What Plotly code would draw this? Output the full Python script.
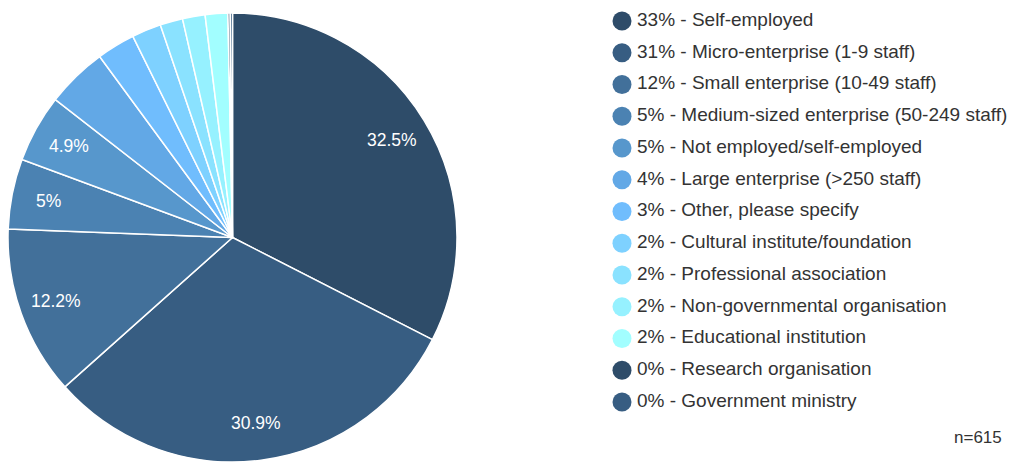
import math
import plotly.graph_objects as go

# Employment categories of respondents (n = 615)
categories = [
    "Self-employed",
    "Micro-enterprise (1-9 staff)",
    "Small enterprise (10-49 staff)",
    "Medium-sized enterprise (50-249 staff)",
    "Not employed/self-employed",
    "Large enterprise (>250 staff)",
    "Other, please specify",
    "Cultural institute/foundation",
    "Professional association",
    "Non-governmental organisation",
    "Educational institution",
    "Research organisation",
    "Government ministry",
]
counts = [200, 190, 75, 31, 30, 27, 17, 13, 10, 10, 10, 1, 1]
colors = [
    "#2e4c69", "#375d82", "#42709a", "#4b82b2", "#5797cc", "#62a8e6",
    "#70bdfd", "#7ed1ff", "#8ae2ff", "#96f1ff", "#a2feff",
    "#2e4c69", "#375d82",
]
slice_labels_shown = 5  # only the five biggest slices carry a percentage label

W, H = 1011, 464
total = sum(counts)
shares = [c / total * 100 for c in counts]
FONT = "Liberation Sans, Arial, sans-serif"

# pie geometry in pixels
cx, cy, R = 232.5, 237.5, 224.5

fig = go.Figure()

fig.add_trace(go.Pie(
    labels=categories,
    values=counts,
    sort=False,
    direction="clockwise",
    rotation=0,
    textinfo="none",
    hoverinfo="label+percent",
    marker=dict(colors=colors, line=dict(color="#ffffff", width=1.5)),
    domain=dict(x=[(cx - R) / W, (cx + R) / W], y=[1 - (cy + R) / H, 1 - (cy - R) / H]),
    showlegend=False,
))

# custom legend: circles with rounded percentages
row0, row_step = 21.0, 31.75
rows = [row0 + i * row_step for i in range(len(categories))]
fig.add_trace(go.Scatter(
    x=[622] * len(categories),
    y=rows,
    mode="markers",
    marker=dict(symbol="circle", size=19, color=colors, line=dict(width=0)),
    hoverinfo="skip",
    showlegend=False,
    cliponaxis=False,
))
fig.add_trace(go.Scatter(
    x=[637] * len(categories),
    y=rows,
    mode="text",
    text=[f"{round(s)}% - {c}" for s, c in zip(shares, categories)],
    textposition="middle right",
    textfont=dict(family=FONT, size=19, color="#333333"),
    hoverinfo="skip",
    showlegend=False,
    cliponaxis=False,
))

# percentage labels inside the larger slices
annotations = []
cum = 0.0
for i, s in enumerate(shares):
    mid = (cum + s / 2) / 100 * 2 * math.pi
    cum += s
    if i >= slice_labels_shown:
        continue
    r_lab = 0.835 * R
    annotations.append(dict(
        x=cx + r_lab * math.sin(mid),
        y=cy - r_lab * math.cos(mid),
        xref="x", yref="y",
        text=f"{round(s, 1):g}%",
        showarrow=False,
        font=dict(family=FONT, size=17.5, color="#ffffff"),
    ))

annotations.append(dict(
    x=1004, y=437, xref="x", yref="y",
    text=f"n={total}", showarrow=False, xanchor="right",
    font=dict(family=FONT, size=17, color="#333333"),
))

fig.update_layout(
    width=W, height=H,
    margin=dict(l=0, r=0, t=0, b=0),
    paper_bgcolor="#ffffff",
    plot_bgcolor="rgba(0,0,0,0)",
    xaxis=dict(range=[0, W], visible=False, fixedrange=True, domain=[0, 1]),
    yaxis=dict(range=[H, 0], visible=False, fixedrange=True, domain=[0, 1]),
    annotations=annotations,
)

fig.write_html("out.html")
